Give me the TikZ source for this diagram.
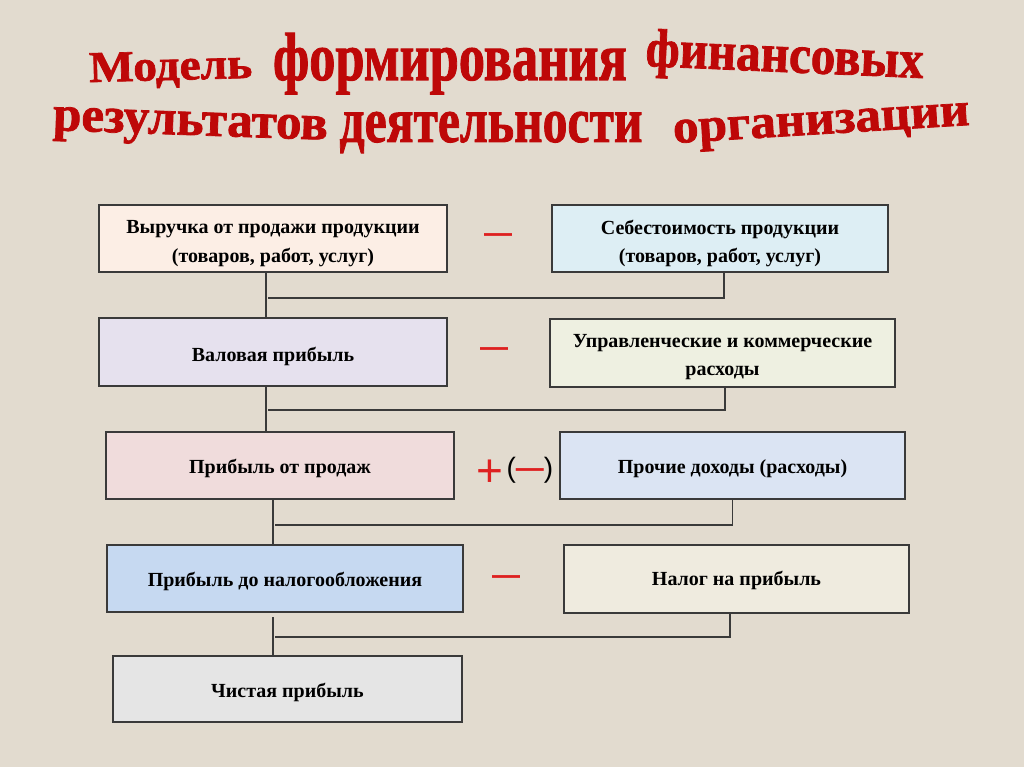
\documentclass[tikz,border=0pt]{standalone}
\usepackage{fontspec}
\usepackage{graphicx}
\setmainfont{Liberation Serif}
\newfontfamily\signfont{Liberation Sans}
\newfontfamily\ttlfont{Liberation Serif}[FakeBold=1.5]
\definecolor{bgcol}{RGB}{226,219,207}
\definecolor{titlered}{RGB}{190,8,8}
\definecolor{signred}{RGB}{222,32,32}
\definecolor{edgecol}{RGB}{58,58,58}
\definecolor{fA}{RGB}{252,238,229}
\definecolor{fB}{RGB}{221,238,244}
\definecolor{fC}{RGB}{230,225,238}
\definecolor{fD}{RGB}{238,240,225}
\definecolor{fE}{RGB}{240,220,220}
\definecolor{fF}{RGB}{219,228,243}
\definecolor{fG}{RGB}{198,217,241}
\definecolor{fH}{RGB}{239,235,223}
\definecolor{fI}{RGB}{229,229,229}
\newcommand\tword[3]{\resizebox{#1pt}{\height}{\ttlfont\bfseries\fontsize{#2}{#2}\selectfont #3}}
\tikzset{
  box/.style={draw=edgecol, line width=1.4pt, rectangle, inner sep=0pt},
  boxtext/.style={align=center, font=\bfseries\fontsize{20}{28.5}\selectfont, text=black, inner sep=0pt},
  conn/.style={draw=edgecol, line width=1.4pt},
  ttl/.style={text=titlered, inner sep=0pt, anchor=base},
  sign/.style={text=signred, inner sep=0pt, font=\signfont\bfseries\fontsize{28}{28}\selectfont}
}
\begin{document}
\begin{tikzpicture}[x=1pt,y=-1pt]
\fill[bgcol] (0,0) rectangle (1024,767);
\useasboundingbox (0,0) rectangle (1024,767);

% title
\node[ttl, rotate=1.5] (t1) at (171,80)  {\tword{163}{44}{Модель}};
\node[ttl]             (t2) at (450,80)  {\tword{354}{68}{формирования}};
\node[ttl, rotate=-2.5](t3) at (784,72)  {\tword{278}{54}{финансовых}};
\node[ttl, rotate=-2]  (t4) at (190,135) {\tword{275}{50}{результатов}};
\node[ttl]             (t5) at (491,142) {\tword{303}{64}{деятельности}};
\node[ttl, rotate=3.5] (t6) at (822,134) {\tword{297}{48}{организации}};

% boxes
\node[box, fill=fA, minimum width=348pt, minimum height=67pt] (b1) at (273,238.5) {};
\node[box, fill=fB, minimum width=336pt, minimum height=67pt] (b2) at (720,238.5) {};
\node[box, fill=fC, minimum width=348pt, minimum height=68pt] (b3) at (273,352) {};
\node[box, fill=fD, minimum width=345pt, minimum height=68pt] (b4) at (722.5,353) {};
\node[box, fill=fE, minimum width=348pt, minimum height=67pt] (b5) at (280,465.5) {};
\node[box, fill=fF, minimum width=345pt, minimum height=67pt] (b6) at (732.5,465.5) {};
\node[box, fill=fG, minimum width=356pt, minimum height=67pt] (b7) at (285,578.5) {};
\node[box, fill=fH, minimum width=345pt, minimum height=68pt] (b8) at (736.5,579) {};
\node[box, fill=fI, minimum width=349pt, minimum height=66pt] (b9) at (287.5,689) {};

% box texts
\node[boxtext] (l1) at ([yshift=-5pt]b1.center) {Выручка от продажи продукции\\(товаров, работ, услуг)};
\node[boxtext] (l2) at ([yshift=-5pt]b2.center) {Себестоимость продукции\\(товаров, работ, услуг)};
\node[boxtext] (l3) at ([yshift=-4pt]b3.center) {Валовая прибыль};
\node[boxtext] (l4) at ([yshift=-4pt]b4.center) {Управленческие и коммерческие\\расходы};
\node[boxtext] (l5) at ([yshift=-3pt]b5.center) {Прибыль от продаж};
\node[boxtext] (l6) at ([yshift=-3pt]b6.center) {Прочие доходы (расходы)};
\node[boxtext] (l7) at ([yshift=-3pt]b7.center) {Прибыль до налогообложения};
\node[boxtext] (l8) at ([yshift=-1pt]b8.center) {Налог на прибыль};
\node[boxtext] (l9) at ([yshift=-3pt]b9.center) {Чистая прибыль};

% signs
\node[sign] (s1) at (498,238) {—};
\node[sign] (s2) at (494,352) {—};
\node[inner sep=0pt, anchor=base, font=\signfont\fontsize{28}{28}\selectfont] (s3) at (515,477)
  {\raisebox{-9pt}{\textcolor{signred}{\fontsize{46}{46}\selectfont +}}\hspace{3pt}(\textcolor{signred}{\bfseries —})};
\node[sign] (s4) at (506,580) {—};

% guide x positions and junction points
\coordinate (v1) at (266,0);
\coordinate (v2) at (273,0);
\coordinate (j1) at (268,298);
\coordinate (j2) at (268,410);
\coordinate (j3) at (275,525);
\coordinate (j4) at (275,637);
\coordinate (g4) at (273,617);

% connectors
\draw[conn] (b1.south -| v1) -- (b3.north -| v1);
\draw[conn] ([xshift=4pt]b2.south) |- (j1);
\draw[conn] (b3.south -| v1) -- (b5.north -| v1);
\draw[conn] ([xshift=2.5pt]b4.south) |- (j2);
\draw[conn] (b5.south -| v2) -- (b7.north -| v2);
\draw[conn] (b6.south) |- (j3);
\draw[conn] (g4) -- (b9.north -| g4);
\draw[conn] ([xshift=-6.5pt]b8.south) |- (j4);
\end{tikzpicture}
\end{document}
